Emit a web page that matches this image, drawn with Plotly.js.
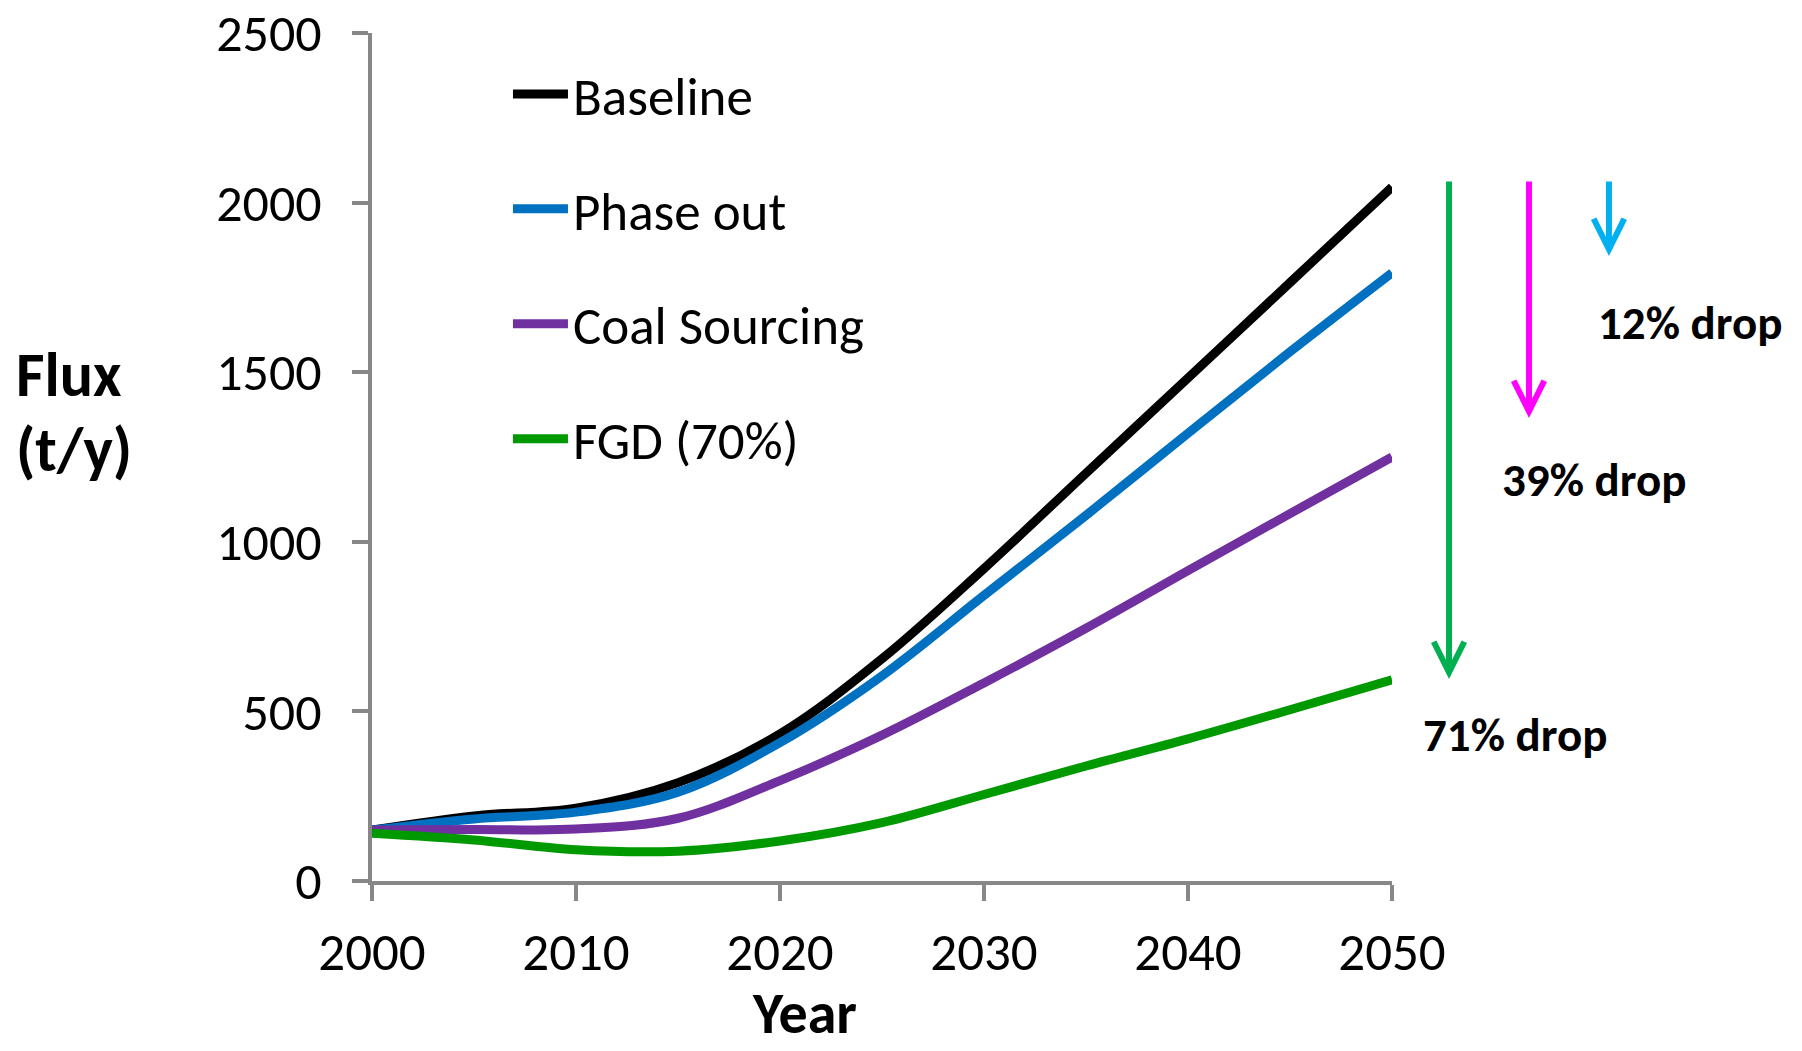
<!DOCTYPE html>
<html>
<head>
<meta charset="utf-8">
<script src="https://cdn.plot.ly/plotly-3.0.1.min.js"></script>
<style>
  html, body { margin: 0; padding: 0; background: #ffffff; }
  #chart { width: 1802px; height: 1051px; }
</style>
</head>
<body>
<div id="chart"></div>
<script>
// ---- Data ----
const years = [2000, 2005, 2010, 2015, 2020, 2025, 2030, 2035, 2040, 2045, 2050];
const baseline      = [150, 192, 215, 290, 434, 655, 921, 1202, 1483, 1764, 2046];
const phaseOut      = [150, 183, 203, 262, 408, 605, 842, 1078, 1320, 1560, 1793];
const coalSourcing  = [150, 152, 153, 185, 296, 430, 584, 745, 915, 1083, 1250];
const fgd70         = [141, 121, 92, 88, 118, 172, 255, 339, 419, 505, 593];

const seriesNames  = ["Baseline", "Phase out", "Coal Sourcing", "FGD (70%)"];
const seriesColors = ["#000000", "#0070C0", "#7030A0", "#009900"];
const seriesValues = [baseline, phaseOut, coalSourcing, fgd70];

const xTicks = [2000, 2010, 2020, 2030, 2040, 2050];
const yTicks = [0, 500, 1000, 1500, 2000, 2500];

const dropLabels = ["12% drop", "39% drop", "71% drop"];
const dropColors = ["#00B0F0", "#FF00FF", "#00B050"];

// ---- Styling ----
const FONT = "Carlito, Lato, 'Liberation Sans', sans-serif";
const AXIS_GRAY = "#878787";

const traces = seriesNames.map((name, i) => ({
  type: "scatter",
  mode: "lines",
  name: name,
  legendgroup: "g" + i,
  x: years,
  y: seriesValues[i],
  line: { color: seriesColors[i], width: 9, shape: "spline", smoothing: 1 },
  hoverinfo: "x+y+name"
}));

// Arrow annotations right of the plot (paper coordinates, tail offset in pixels)
const arrowX    = [1.2127, 1.1343, 1.0559];
const arrowTipY = [0.7370, 0.5460, 0.2382];
const arrowLen  = [76, 238, 499];
const labelX    = [1.2922, 1.1985, 1.1201];
const labelY    = [0.6580, 0.4729, 0.1722];

const annotations = [];
for (let i = 0; i < 3; i++) {
  annotations.push({
    xref: "paper", yref: "paper",
    x: arrowX[i], y: arrowTipY[i], ax: 0, ay: -arrowLen[i],
    text: "", showarrow: true,
    arrowhead: 5, arrowsize: 1, arrowwidth: 6, arrowcolor: dropColors[i],
    standoff: 0, startstandoff: 0
  });
  annotations.push({
    xref: "paper", yref: "paper",
    x: labelX[i], y: labelY[i],
    text: "<b>" + dropLabels[i] + "</b>",
    showarrow: false,
    xanchor: "center", yanchor: "middle",
    font: { family: FONT, size: 47, color: "#000000" }
  });
}
// Axis titles written as annotations (horizontal y title, offset x title as in reference)
annotations.push({
  xref: "paper", yref: "paper", x: -0.351, y: 0.5967,
  xanchor: "left", yanchor: "middle",
  text: "<b>Flux</b>", showarrow: false,
  font: { family: FONT, size: 62, color: "#000000" }
});
annotations.push({
  xref: "paper", yref: "paper", x: -0.351, y: 0.5083,
  xanchor: "left", yanchor: "middle",
  text: "<b>(t/y)</b>", showarrow: false,
  font: { family: FONT, size: 62, color: "#000000" }
});
annotations.push({
  xref: "paper", yref: "paper", x: 0.4245, y: -0.1557,
  xanchor: "center", yanchor: "middle",
  text: "<b>Year</b>", showarrow: false,
  font: { family: FONT, size: 58, color: "#000000" }
});

const layout = {
  width: 1802,
  height: 1051,
  paper_bgcolor: "#ffffff",
  plot_bgcolor: "#ffffff",
  margin: { l: 372, r: 410, t: 33, b: 170, autoexpand: false },
  font: { family: FONT, size: 52, color: "#000000" },
  showlegend: true,
  legend: {
    x: 0.1333, y: 0.9764, xanchor: "left", yanchor: "top",
    bgcolor: "rgba(0,0,0,0)",
    font: { family: FONT, size: 53, color: "#000000" },
    tracegroupgap: 43,
    itemwidth: 55
  },
  xaxis: {
    range: [2000, 2050],
    tickvals: xTicks,
    ticktext: xTicks.map(String),
    showgrid: false, zeroline: false,
    showline: true, linecolor: AXIS_GRAY, linewidth: 4,
    ticks: "outside", ticklen: 16, tickwidth: 4, tickcolor: AXIS_GRAY,
    tickfont: { family: FONT, size: 53, color: "#000000" },
    ticklabelstandoff: 5,
    ticklabeloverflow: "allow",
    fixedrange: true
  },
  yaxis: {
    range: [0, 2500],
    tickvals: yTicks,
    ticktext: yTicks.map(String),
    showgrid: false, zeroline: false,
    showline: true, linecolor: AXIS_GRAY, linewidth: 4,
    ticks: "outside", ticklen: 16, tickwidth: 4, tickcolor: AXIS_GRAY,
    tickfont: { family: FONT, size: 52, color: "#000000" },
    ticklabelstandoff: 20,
    ticklabeloverflow: "allow",
    fixedrange: true
  },
  annotations: annotations
};

Plotly.newPlot("chart", traces, layout, { displayModeBar: false, staticPlot: true });
</script>
</body>
</html>
